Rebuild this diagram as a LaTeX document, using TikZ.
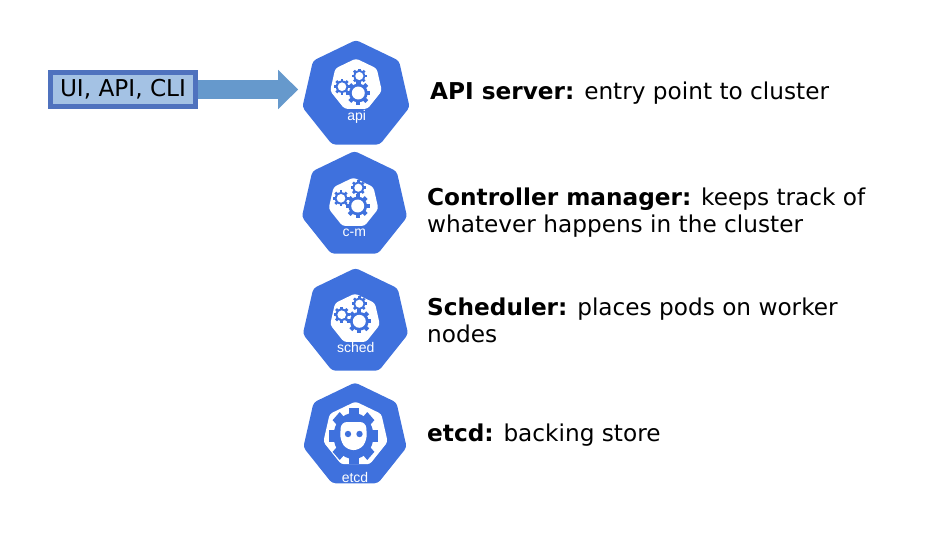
\documentclass[tikz,border=0pt]{standalone}
\usepackage{fontspec}
\setmainfont{DejaVu Sans}
\newfontfamily\iconfont{Liberation Sans}
\usetikzlibrary{shapes.geometric, positioning, arrows.meta}
\definecolor{kubeblue}{HTML}{3F71DD}
\definecolor{boxfill}{HTML}{A4C2E4}
\definecolor{boxline}{HTML}{4F72BE}
\definecolor{arrowblue}{HTML}{6699CC}
\tikzset{
    x=1pt,
    y=-1pt,
    kube/.style={regular polygon, regular polygon sides=7, fill=kubeblue, rounded corners=3.5pt, minimum size=#1, inner sep=0pt, outer sep=0pt},
    inner/.style={regular polygon, regular polygon sides=7, fill=white, rounded corners=3pt, minimum size=#1, inner sep=0pt, outer sep=0pt},
    iconlabel/.style={text=white, font=\iconfont\fontsize{14}{14}\selectfont, inner sep=0pt},
    desc/.style={anchor=west, align=left, inner sep=0pt, font=\fontsize{23.2}{27}\selectfont},
}
% one gear: centre, outer radius
\newcommand{\gearat}[3]{
    \foreach \tooth in {0,45,...,315}
        \fill[kubeblue, rotate around={\tooth:(#1,#2)}] (#1-#3*0.17,#2) rectangle (#1+#3*0.17,#2-#3);
    \fill[kubeblue] (#1,#2) circle (#3*0.78);
    \fill[white] (#1,#2) circle (#3*0.54);
}

\begin{document}
\begin{tikzpicture}
    \useasboundingbox (0,0) rectangle (952,536);

    \node[kube=110pt] (api) at (356,95) {};
    \node[kube=108pt] (cm) at (354.5,205) {};
    \node[kube=108pt] (sched) at (355.5,322) {};
    \node[kube=106pt] (etcd) at (355,435.5) {};

    \node[inner=53pt] (apiinner) at (356,85) {};
    \node[inner=51pt] (cminner) at (353.5,203) {};
    \node[inner=51pt] (schedinner) at (355,319) {};
    \node[inner=66pt] (etcdinner) at (355.5,434.5) {};

    \gearat{358.3}{93}{12}
    \gearat{342}{86.7}{8}
    \gearat{359.3}{76}{7.5}

    \gearat{357.7}{206}{12}
    \gearat{341}{198.3}{8}
    \gearat{358.3}{187.7}{7.5}

    \gearat{359.3}{321.3}{12}
    \gearat{341.7}{314.7}{8}
    \gearat{359.3}{303.7}{7.5}

    % etcd gear and face
    \begin{scope}[shift={(353.5,436)}, yscale=1.15]
        \foreach \tooth in {0,45,...,315}
            \fill[kubeblue, rotate=\tooth] (-5,0) rectangle (5,-24.5);
        \fill[kubeblue] (0,0) circle (20);
    \end{scope}
    \fill[white, rounded corners=6pt] (341,422) -- (366,422) -- (367,440) -- (360,450) -- (347,450) -- (340,440) -- cycle;
    \fill[kubeblue] (348,434) circle (3.2);
    \fill[kubeblue] (359.5,434) circle (3.2);

    \node[iconlabel] (apilabel) at (356.7,117) {api};
    \node[iconlabel] (cmlabel) at (354.3,232.5) {c-m};
    \node[iconlabel] (schedlabel) at (355.7,347.5) {sched};
    \node[iconlabel] (etcdlabel) at (355,477.5) {etcd};

    \node[draw=boxline, line width=5pt, fill=boxfill, minimum width=145pt, minimum height=34pt, inner sep=0pt, font=\fontsize{23.2}{27}\selectfont] (clients) at (123,89.5) {UI, API, CLI};
    \draw[arrowblue, line width=19pt, shorten >=7pt, -{Triangle[length=20pt,width=38pt]}] (clients.east) -- (clients.east -| api.west);

    \node[desc] (apitext) at (430,93.5) {\textbf{API server:} entry point to cluster};
    \node[desc] (cmtext) at (427,212.5) {\textbf{Controller manager:} keeps track of\\whatever happens in the cluster};
    \node[desc] (schedtext) at (427,320) {\textbf{Scheduler:} places pods on worker\\nodes};
    \node[desc] (etcdtext) at (427,435) {\textbf{etcd:} backing store};
\end{tikzpicture}
\end{document}
